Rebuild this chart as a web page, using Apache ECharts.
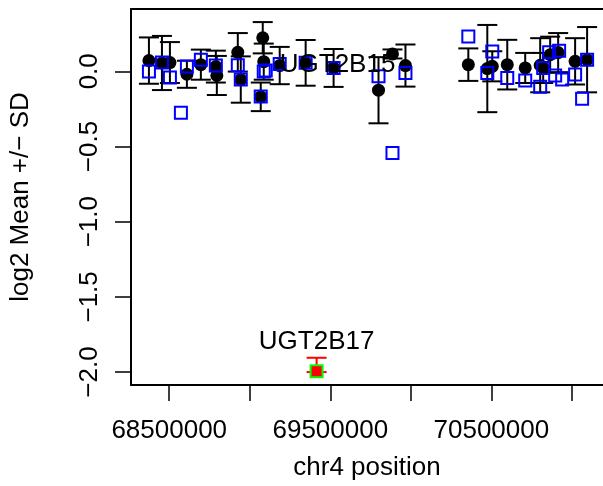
<!DOCTYPE html>
<html>
<head>
<meta charset="utf-8">
<script src="https://cdn.jsdelivr.net/npm/echarts@6/dist/echarts.min.js"></script>
<style>
  html, body { margin: 0; padding: 0; background: #fff; }
  #main { width: 603px; height: 486px; }
</style>
</head>
<body>
<div id="main"></div>
<script>
// black points: position, log2 mean, SD
var blackPos = [68374000, 68454800, 68504300, 68609700, 68696400, 68789400, 68795600, 68925700, 68944200,
  69080600, 69086800, 69068200, 69185900, 69347000, 69520500, 69799300, 69886000, 69966600,
  70356900, 70474700, 70505600, 70598600, 70710100, 70803100, 70821700, 70865000, 70914600, 71019900, 71094300];
var blackMean = [0.071, 0.055, 0.058, -0.02, 0.044, 0.031, -0.028, 0.126, -0.055,
  0.223, 0.064, -0.17, 0.038, 0.056, 0.022, -0.126, 0.115, 0.038,
  0.044, 0.018, 0.033, 0.044, 0.022, 0.04, 0.022, 0.11, 0.124, 0.066, 0.077];
var blackSd = [0.154, 0.18, 0.136, 0.09, 0.1, 0.106, 0.13, 0.128, 0.154,
  0.104, 0.12, 0.095, 0.124, 0.152, 0.126, 0.22, 0.03, 0.14,
  0.108, 0.29, 0.1, 0.165, 0.1, 0.18, 0.1, 0.12, 0.13, 0.154, 0.217];

// blue open squares
var bluePos = [68374000, 68454800, 68504300, 68572500, 68609700, 68696400, 68789400, 68925700, 68944200,
  69086800, 69099200, 69068200, 69185900, 69347000, 69520500, 69799300, 69886000, 69966600,
  70356900, 70474700, 70505600, 70598600, 70710100, 70803100, 70821700, 70858800, 70920700,
  70896000, 70939400, 71019900, 71063300, 71094300];
var blueVal = [-0.002, 0.058, -0.042, -0.275, 0.031, 0.077, 0.038, 0.04, -0.055,
  -0.002, 0.005, -0.167, 0.049, 0.056, 0.022, -0.033, -0.544, -0.011,
  0.231, -0.011, 0.132, -0.044, -0.062, -0.103, 0.022, 0.126, 0.137,
  -0.028, -0.055, -0.022, -0.183, 0.077];

// highlighted gene
var redPos = [69415000];
var redMean = [-1.995];
var redLo = [-2.0];
var redHi = [-1.905];

// gene labels
var labelText = ['UGT2B15', 'UGT2B17'];
var labelPos = [69545000, 69415000];
var labelY = [0.044, -1.80];

var xTicks = [68500000, 69000000, 69500000, 70000000, 70500000, 71000000];
var xTickLabels = [68500000, 69500000, 70500000];
var yTicks = [-2.0, -1.5, -1.0, -0.5, 0.0];

var chart = echarts.init(document.getElementById('main'));

function errBar(color) {
  return function (params, api) {
    var x = api.value(0);
    var top = api.coord([x, api.value(2)]);
    var bot = api.coord([x, api.value(1)]);
    var st = { stroke: color, lineWidth: 2 };
    return {
      type: 'group',
      children: [
        { type: 'line', shape: { x1: top[0], y1: top[1], x2: bot[0], y2: bot[1] }, style: st },
        { type: 'line', shape: { x1: top[0] - 10, y1: top[1], x2: top[0] + 10, y2: top[1] }, style: st },
        { type: 'line', shape: { x1: bot[0] - 10, y1: bot[1], x2: bot[0] + 10, y2: bot[1] }, style: st }
      ]
    };
  };
}

var blackErr = blackPos.map(function (p, i) {
  return [p, blackMean[i] - blackSd[i], blackMean[i] + blackSd[i]];
});
var redErr = redPos.map(function (p, i) { return [p, redLo[i], redHi[i]]; });

var font = 'Liberation Sans, Arial, sans-serif';
var xMin = 68262700, xMax = 71193000;

chart.setOption({
  animation: false,
  backgroundColor: '#fff',
  grid: { left: 130, top: 9, right: 0, bottom: 99 },
  xAxis: [{
    type: 'value',
    min: xMin,
    max: xMax,
    splitLine: { show: false },
    axisLine: { show: true, onZero: false, lineStyle: { color: '#000', width: 2 } },
    axisTick: { show: true, length: 16, customValues: xTicks, lineStyle: { color: '#000', width: 1.5 } },
    axisLabel: {
      customValues: xTickLabels, margin: 33, color: '#000',
      fontSize: 26, fontFamily: font,
      formatter: function (v) { return String(v); }
    },
    name: 'chr4 position',
    nameLocation: 'middle',
    nameGap: 70,
    nameTextStyle: { color: '#000', fontSize: 26, fontFamily: font }
  }, {
    type: 'value',
    position: 'top',
    min: xMin,
    max: xMax,
    splitLine: { show: false },
    axisLine: { show: true, onZero: false, lineStyle: { color: '#000', width: 2 } },
    axisTick: { show: false },
    axisLabel: { show: false }
  }],
  yAxis: {
    type: 'value',
    min: -2.086,
    max: 0.414,
    splitLine: { show: false },
    axisLine: { show: true, onZero: false, lineStyle: { color: '#000', width: 2 } },
    axisTick: { show: true, length: 16, customValues: yTicks, lineStyle: { color: '#000', width: 1.5 } },
    axisLabel: {
      customValues: yTicks, margin: 28, rotate: 90, color: '#000',
      fontSize: 26, fontFamily: font,
      formatter: function (v) { return (v < 0 ? '\u2212' : '') + Math.abs(v).toFixed(1); }
    },
    name: 'log2 Mean +/\u2212 SD',
    nameLocation: 'middle',
    nameGap: 97,
    nameRotate: 90,
    nameTextStyle: { color: '#000', fontSize: 26, fontFamily: font }
  },
  series: [
    {
      type: 'custom',
      renderItem: errBar('#000'),
      data: blackErr,
      z: 2
    },
    {
      type: 'scatter',
      symbol: 'circle',
      symbolSize: 13,
      itemStyle: { color: '#000', opacity: 1 },
      data: blackPos.map(function (p, i) { return [p, blackMean[i]]; }),
      z: 3
    },
    {
      type: 'scatter',
      symbol: 'rect',
      symbolSize: 12,
      itemStyle: { color: 'rgba(0,0,0,0)', borderColor: '#0000ff', borderWidth: 2, opacity: 1 },
      data: bluePos.map(function (p, i) { return [p, blueVal[i]]; }),
      z: 4
    },
    {
      type: 'custom',
      renderItem: errBar('#ff0000'),
      data: redErr,
      z: 5
    },
    {
      type: 'scatter',
      symbol: 'rect',
      symbolSize: 12,
      itemStyle: { color: '#ff0000', borderColor: '#00ff00', borderWidth: 2, opacity: 1 },
      data: redPos.map(function (p, i) { return [p, redMean[i]]; }),
      z: 6
    },
    {
      type: 'scatter',
      symbolSize: 0,
      silent: true,
      itemStyle: { opacity: 1 },
      data: labelPos.map(function (p, i) { return { value: [p, labelY[i]], name: labelText[i] }; }),
      label: {
        show: true, position: 'inside', formatter: '{b}',
        color: '#000', fontSize: 26, fontFamily: font
      },
      z: 7
    }
  ]
});
</script>
</body>
</html>
